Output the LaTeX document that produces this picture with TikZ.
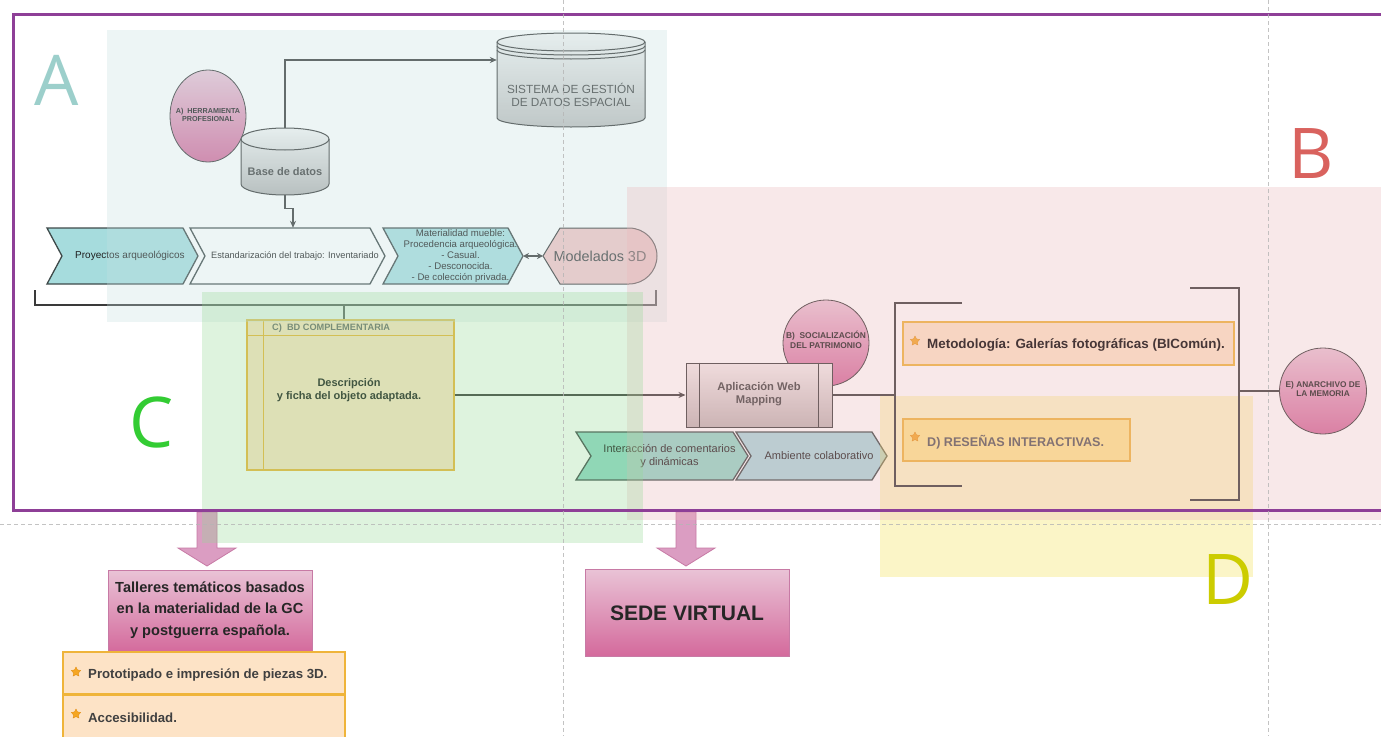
\documentclass[tikz,border=0pt]{standalone}
\usepackage{fontspec}
\setmainfont{Liberation Sans}
\newfontfamily\bigletter{Open Sans}
\usetikzlibrary{shapes.geometric,arrows.meta,calc}
\definecolor{framec}{HTML}{8E3F97}
\definecolor{textc}{HTML}{1E1E1E}
\definecolor{darkline}{HTML}{3A3A3A}
\definecolor{chevline}{HTML}{3F4A4A}
\definecolor{teal}{HTML}{A6DCDD}
\definecolor{tealg}{HTML}{8FD6C6}
\definecolor{tealb}{HTML}{A8D6DC}
\definecolor{modc}{HTML}{F2C4C4}
\definecolor{pinktop}{HTML}{E9C3D6}
\definecolor{pinkbot}{HTML}{D46A9C}
\definecolor{pinkbd}{HTML}{C77AA5}
\definecolor{arrfill}{HTML}{DB9DC2}
\definecolor{cyltop}{HTML}{F4F4F4}
\definecolor{cylbot}{HTML}{B2B2B2}
\definecolor{webtop}{HTML}{F2ECEC}
\definecolor{webbot}{HTML}{BFB3B3}
\definecolor{orfill}{HTML}{FDE3C6}
\definecolor{yelfill}{HTML}{FFE58C}
\definecolor{orbd}{HTML}{EFB43A}
\definecolor{starc}{HTML}{F5A623}
\definecolor{starbd}{HTML}{E08A10}
\definecolor{regA}{HTML}{C6E1E1}
\definecolor{regB}{HTML}{EBB6B9}
\definecolor{regC}{HTML}{94DA94}
\definecolor{regD}{HTML}{F2E148}
\definecolor{letA}{HTML}{9CCFCB}
\definecolor{letB}{HTML}{D9625E}
\definecolor{letC}{HTML}{33CC33}
\definecolor{letD}{HTML}{CCCC00}
\definecolor{dashc}{HTML}{B5B5B5}
\tikzset{
  txt/.style={text=textc, align=center},
  orbox/.style={draw=orbd, line width=1.4pt, fill=orfill},
  pinkbox/.style={draw=pinkbd, line width=1pt, top color=pinktop, bottom color=pinkbot},
  pcirc/.style={ellipse, draw=darkline, line width=0.8pt, top color=pinktop, bottom color=pinkbot},
  conn/.style={draw=darkline, line width=1.3pt},
  arr/.style={conn, -{Stealth[length=7pt,width=6pt]}},
  dblarr/.style={conn, {Stealth[length=6pt,width=6pt]}-{Stealth[length=6pt,width=6pt]}},
  starsym/.style={star, star points=5, star point ratio=1.9, fill=starc, draw=starbd, line width=0.3pt, minimum size=10pt, inner sep=0pt},
  chevpath/.style={draw=chevline, line width=1.3pt},
  region/.style={fill opacity=0.3},
  bigl/.style={font=\bigletter\fontsize{70}{70}\selectfont},
  blockarr/.style={draw=pinkbd, line width=0.8pt, fill=arrfill},
  dashl/.style={draw=dashc, line width=1pt, dash pattern=on 4pt off 3pt, opacity=0.8},
}
\newcommand{\mychev}[9]{%
  \path[chevpath, fill=#7] (#2,#4) -- ({#3-#6},#4) -- (#3,{(#4+#5)/2}) -- ({#3-#6},#5) -- (#2,#5) -- ({#2+#6},{(#4+#5)/2}) -- cycle;
  \node[txt, #8, minimum height={#5-#4}] (#1) at ({(#2+#3)/2+#6/2},{(#4+#5)/2}) {#9};
}
\begin{document}
\begin{tikzpicture}[x=1pt,y=-1pt, every node/.style={inner sep=0pt}]
\useasboundingbox[fill=white] (0,0) rectangle (1381,736);

% ---------- region A content ----------
\path[draw=darkline, line width=1pt, top color=cyltop, bottom color=cylbot!85]
  (497,42) -- (497,118) arc[start angle=180,end angle=360,x radius=74pt,y radius=9pt]
  -- (645,42) arc[start angle=0,end angle=180,x radius=74pt,y radius=9pt] -- cycle;
\draw[darkline, line width=1pt] (497,42) arc[start angle=180,end angle=360,x radius=74pt,y radius=9pt];
\draw[darkline, line width=1pt] (497,46) arc[start angle=180,end angle=360,x radius=74pt,y radius=9pt];
\draw[darkline, line width=1pt] (497,50) arc[start angle=180,end angle=360,x radius=74pt,y radius=9pt];
\node[minimum width=148pt, minimum height=96pt] (sgde) at (571,79) {};
\node[txt, font=\fontsize{11.8}{13}\selectfont, text=textc!85] (sgdet) at (571,95) {SISTEMA DE GESTIÓN\\DE DATOS ESPACIAL};

\node[pcirc, minimum width=76pt, minimum height=92pt] (herr) at (208,116) {};
\node[txt, font=\bfseries\fontsize{7.2}{8.6}\selectfont] (herrt) at (208,115) {A)\ \ HERRAMIENTA\\PROFESIONAL};

\path[draw=darkline, line width=1pt, top color=cyltop, bottom color=cylbot]
  (241,139) -- (241,184) arc[start angle=180,end angle=360,x radius=44pt,y radius=11pt]
  -- (329,139) arc[start angle=0,end angle=180,x radius=44pt,y radius=11pt] -- cycle;
\draw[darkline, line width=1pt] (241,139) arc[start angle=180,end angle=360,x radius=44pt,y radius=11pt];
\node[minimum width=88pt, minimum height=67pt] (bd) at (285,161.5) {};
\node[txt, font=\bfseries\fontsize{11}{13}\selectfont, text=textc!85] (bdt) at (285,172) {Base de datos};

\mychev{pa}{47}{198}{228}{284}{15}{teal}{font=\fontsize{10}{12}\selectfont}{Proyectos arqueológicos}
\mychev{est}{190}{385}{228}{284}{15}{white}{font=\fontsize{9.2}{11}\selectfont}{Estandarización del trabajo: Inventariado}
\mychev{mat}{383}{523}{228}{284}{15}{teal}{font=\fontsize{9.6}{11}\selectfont}{Materialidad mueble:\\Procedencia arqueológica.\\- Casual.\\- Desconocida.\\- De colección privada.}
\path[draw=darkline, line width=1pt, fill=modc] (560,228) -- (629,228) arc[start angle=90,end angle=-90,radius=28pt] -- (560,284) -- (543,256) -- cycle;
\node[txt, font=\fontsize{14.4}{16}\selectfont, text=textc!85] (mod) at (600,256) {Modelados 3D};
\coordinate (mattip) at (523,256);
\coordinate (modtip) at (543,256);
\draw[dblarr] (mattip) -- (modtip);

\draw[arr] (bd.north) |- ([yshift=19pt]sgde.west);
\draw[arr] (bd.south) -- ++(0,13) -| ([xshift=-2pt]est.north);

\coordinate (b1l) at (35,290);
\coordinate (b1r) at (656,290);
\coordinate (b1m) at (344,305);
\draw[conn] (b1l) -- ++(0,15) -| (b1r);

% ---------- C box ----------
\node[orbox, minimum width=207pt, minimum height=150pt] (cbox) at (350.5,395) {};
\draw[draw=orbd, line width=1.4pt] ($(cbox.north west)+(0,16)$) -- ($(cbox.north east)+(0,16)$);
\draw[draw=orbd, line width=1.4pt] ($(cbox.north west)+(17,0)$) -- ($(cbox.south west)+(17,0)$);
\node[anchor=west, font=\bfseries\fontsize{9.2}{10}\selectfont, text=textc!65] (ctitle) at (272,328) {C)\ \ BD COMPLEMENTARIA};
\node[txt, font=\bfseries\fontsize{11}{13.5}\selectfont] (cdesc) at (349,390) {Descripción\\y ficha del objeto adaptada.};
\draw[conn] (b1m) -- (b1m |- cbox.north);

% ---------- B part ----------
\node[pcirc, minimum width=86pt, minimum height=86pt] (soc) at (826,343) {};
\node[txt, font=\bfseries\fontsize{8.4}{9.6}\selectfont] (soct) at (826,340) {B)\ \ SOCIALIZACIÓN\\DEL PATRIMONIO};

\node[draw=darkline, line width=1pt, top color=webtop, bottom color=webbot, minimum width=146pt, minimum height=64pt] (web) at (759,395) {};
\draw[darkline, line width=1pt] ($(web.north west)+(14,0)$) -- ($(web.south west)+(14,0)$);
\draw[darkline, line width=1pt] ($(web.north east)+(-14,0)$) -- ($(web.south east)+(-14,0)$);
\node[txt, font=\bfseries\fontsize{11.2}{13.5}\selectfont, text=textc!85] (webt) at (759,394) {Aplicación Web\\Mapping};

\draw[arr] (cbox.east) -- (web.west);

\mychev{inter}{576}{748}{432}{480}{15}{tealg}{font=\fontsize{11}{12.5}\selectfont}{Interacción de comentarios\\y dinámicas}
\mychev{amb}{736}{887}{432}{480}{15}{tealb}{font=\fontsize{11}{12.5}\selectfont}{Ambiente colaborativo}

% region D overlay (under its boxes)
\fill[regD, region] (880,396) rectangle (1253,577);

\coordinate (lbt) at (962,303);
\coordinate (lbb) at (962,486);
\coordinate (lbm) at (895,395);
\coordinate (rbt) at (1190,288);
\coordinate (rbb) at (1190,500);
\coordinate (rbm) at (1239,391);
\draw[conn] (lbt) -- (895,303) -- (895,486) -- (lbb);
\draw[conn] (rbt) -- (1239,288) -- (1239,500) -- (rbb);
\draw[conn] (web.east) -- (lbm);

\node[pcirc, minimum width=87pt, minimum height=86pt] (arch) at (1323,391) {};
\node[txt, font=\bfseries\fontsize{8.3}{9.6}\selectfont] (archt) at (1323,389) {E) ANARCHIVO DE\\LA MEMORIA};
\draw[conn] (rbm) -- (arch.west);

\node[orbox, minimum width=331pt, minimum height=43pt] (meto) at (1068.5,343.5) {};
\node[starsym] (s1) at (915,341) {};
\node[anchor=west, font=\bfseries\fontsize{13.4}{15}\selectfont] (metot) at (927,345) {Metodología: Galerías fotográficas (BIComún).};
\node[orbox, fill=yelfill, minimum width=227pt, minimum height=42pt] (res) at (1016.5,440) {};
\node[starsym] (s2) at (915,437) {};
\node[anchor=west, font=\bfseries\fontsize{12.6}{15}\selectfont, text=textc!75] (rest) at (927,442) {D) RESEÑAS INTERACTIVAS.};

% ---------- bottom ----------
\path[blockarr] (197,512) -- (217,512) -- (217,548) -- (236,548) -- (207,566) -- (178,548) -- (197,548) -- cycle;
\path[blockarr] (676,512) -- (696,512) -- (696,548) -- (715,548) -- (686,566) -- (657,548) -- (676,548) -- cycle;

\node[pinkbox, minimum width=204pt, minimum height=82pt] (tall) at (210,611) {};
\node[txt, font=\bfseries\fontsize{14.6}{21.5}\selectfont, text=black!85] (tallt) at (210,610) {Talleres temáticos basados\\en la materialidad de la GC\\y postguerra española.};

\node[orbox, minimum width=282pt, minimum height=42pt] (proto) at (204,673) {};
\node[starsym] (s3) at (76,672) {};
\node[anchor=west, font=\bfseries\fontsize{13.2}{15}\selectfont, text=textc!85] (protot) at (88,675) {Prototipado e impresión de piezas 3D.};
\node[orbox, minimum width=282pt, minimum height=45pt] (acc) at (204,717.5) {};
\node[starsym] (s4) at (76,714) {};
\node[anchor=west, font=\bfseries\fontsize{13.2}{15}\selectfont, text=textc!85] (acct) at (88,718) {Accesibilidad.};

\node[pinkbox, minimum width=204pt, minimum height=87pt] (sede) at (687,612.5) {};
\node[txt, font=\bfseries\fontsize{21}{24}\selectfont, text=black!85] (sedet) at (687,613) {SEDE VIRTUAL};

% ---------- regions overlay ----------
\fill[regA, region] (107,30) rectangle (667,322);
\fill[regB, region] (627,187) rectangle (1381,520);
\fill[regC, region] (202,292) rectangle (643,543);

% ---------- big letters ----------
\node[bigl, text=letA] (LA) at (57,80) {A};
\node[bigl, text=letB] (LB) at (1311,154) {B};
\node[bigl, text=letC] (LC) at (152,422) {C};
\node[bigl, text=letD] (LD) at (1228,580) {D};

% ---------- frame & guides ----------
\draw[framec, line width=3pt] (13,14) rectangle (1400,510);
\draw[dashl] (563,0) -- (563,736);
\draw[dashl] (1268,0) -- (1268,736);
\draw[dashl] (0,524) -- (1381,524);
\end{tikzpicture}
\end{document}
